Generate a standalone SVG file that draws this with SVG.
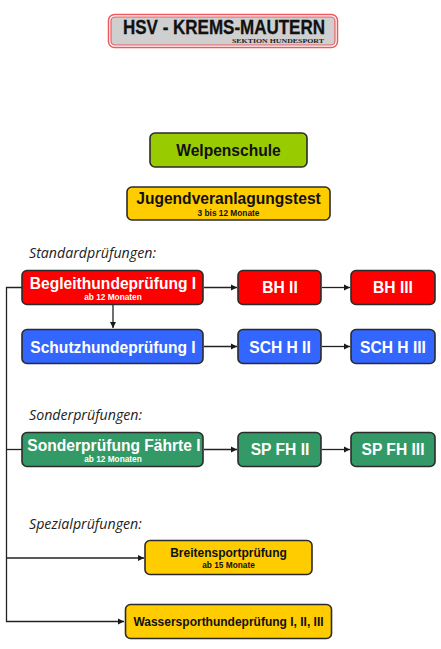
<svg xmlns="http://www.w3.org/2000/svg" width="441" height="649" viewBox="0 0 441 649">
<defs>
<marker id="a" markerUnits="userSpaceOnUse" markerWidth="7" markerHeight="7" refX="6" refY="3.5" orient="auto"><path d="M0 0.500L6 3.500L0 6.500z" fill="#1a1a1a"/></marker>
</defs>
<style>
text{font-family:"Liberation Sans",Arial,sans-serif;font-weight:bold;text-anchor:middle}
.n{stroke:#2b2b2b;stroke-width:1.6}
.w{fill:#fff}.k{fill:#111}
.t{font-size:15.6px}.m{font-size:12px}.s{font-size:8.3px}
.h{font-weight:normal;font-style:italic;font-size:14.2px;text-anchor:start;fill:#222;font-family:"Open Sans","DejaVu Sans",sans-serif}
.c{fill:none;stroke:#222;stroke-width:1.3}
</style>
<rect width="441" height="649" fill="#fff"/>
<g id="logo">
<rect x="108.500" y="14.500" width="229" height="33" rx="6" fill="#fff" stroke="#ee5a5e" stroke-width="1.500"/>
<rect x="111" y="17" width="224" height="28" rx="4" fill="#cfcfcf" stroke="#ee5a5e" stroke-width="1.200"/>
<text x="224" y="34" font-size="19.500" textLength="202" lengthAdjust="spacingAndGlyphs" fill="#111" stroke="#111" stroke-width="0.300">HSV - KREMS-MAUTERN</text>
<text x="278" y="42.500" font-size="7" textLength="92" lengthAdjust="spacingAndGlyphs" style="font-family:'Liberation Serif',serif" fill="#222">SEKTION HUNDESPORT</text>
</g>
<g id="connectors">
<path class="c" d="M22 287.500H6.500V621.500H124" marker-end="url(#a)"/>
<path class="c" d="M6.500 449.500H22"/>
<path class="c" d="M6.500 558H144" marker-end="url(#a)"/>
<path class="c" d="M113 305V328" marker-end="url(#a)"/>
<path class="c" d="M204 287.500H237" marker-end="url(#a)"/>
<path class="c" d="M322 287.500H350" marker-end="url(#a)"/>
<path class="c" d="M204 346.500H237" marker-end="url(#a)"/>
<path class="c" d="M322 346.500H350" marker-end="url(#a)"/>
<path class="c" d="M204 449.500H237" marker-end="url(#a)"/>
<path class="c" d="M322 449.500H350" marker-end="url(#a)"/>
</g>
<text class="h" x="29" y="258">Standardprüfungen:</text>
<text class="h" x="29" y="420">Sonderprüfungen:</text>
<text class="h" x="29" y="529">Spezialprüfungen:</text>
<g id="welpenschule"><rect class="n" x="150" y="133" width="157" height="34" rx="5" fill="#99cc00"/><text class="k t" x="228.500" y="156">Welpenschule</text></g>
<g id="jugend"><rect class="n" x="127" y="187" width="203" height="33" rx="5" fill="#ffcc00"/><text class="k t" x="228.500" y="204">Jugendveranlagungstest</text><text class="k s" x="228.500" y="216">3 bis 12 Monate</text></g>
<g id="bh1"><rect class="n" x="22" y="270.500" width="181" height="34" rx="5" fill="#ff0000"/><text class="w t" x="113" y="289">Begleithundeprüfung I</text><text class="w s" x="113" y="300">ab 12 Monaten</text></g>
<g id="bh2"><rect class="n" x="238" y="270.500" width="83" height="34" rx="5" fill="#ff0000"/><text class="w t" x="280" y="293">BH II</text></g>
<g id="bh3"><rect class="n" x="351" y="270.500" width="84" height="34" rx="5" fill="#ff0000"/><text class="w t" x="393" y="293">BH III</text></g>
<g id="sch1"><rect class="n" x="22" y="329.500" width="181" height="34" rx="5" fill="#3366ff"/><text class="w t" x="113" y="353">Schutzhundeprüfung I</text></g>
<g id="sch2"><rect class="n" x="238" y="329.500" width="83" height="34" rx="5" fill="#3366ff"/><text class="w t" x="280" y="353">SCH H II</text></g>
<g id="sch3"><rect class="n" x="351" y="329.500" width="84" height="34" rx="5" fill="#3366ff"/><text class="w t" x="393" y="353">SCH H III</text></g>
<g id="sp1"><rect class="n" x="22" y="432.500" width="181" height="34" rx="5" fill="#339966"/><text class="w t" x="114" y="451">Sonderprüfung Fährte I</text><text class="w s" x="113" y="462">ab 12 Monaten</text></g>
<g id="sp2"><rect class="n" x="238" y="432.500" width="83" height="34" rx="5" fill="#339966"/><text class="w t" x="280" y="455">SP FH II</text></g>
<g id="sp3"><rect class="n" x="351" y="432.500" width="84" height="34" rx="5" fill="#339966"/><text class="w t" x="393" y="455">SP FH III</text></g>
<g id="breiten"><rect class="n" x="145" y="540.500" width="167" height="34" rx="5" fill="#ffcc00"/><text class="k m" x="228.500" y="557">Breitensportprüfung</text><text class="k s" x="228.500" y="568">ab 15 Monate</text></g>
<g id="wasser"><rect class="n" x="125.500" y="604.500" width="206" height="34" rx="5" fill="#ffcc00"/><text class="k m" x="228.500" y="626">Wassersporthundeprüfung I, II, III</text></g>
</svg>
